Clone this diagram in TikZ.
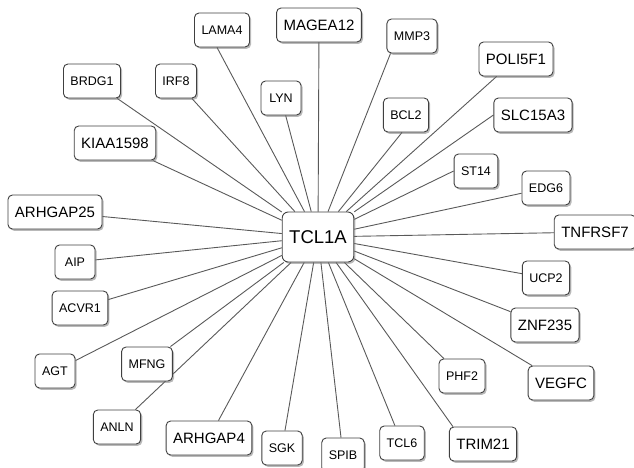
\documentclass[tikz,border=0pt]{standalone}
\usepackage{fontspec}
\setmainfont{Liberation Sans}
\usepackage{tikz}
\usetikzlibrary{shadows,backgrounds}
\tikzset{gene/.style={draw=black!75,fill=white,rounded corners=4.5pt,line width=0.9pt,
                      minimum height=34pt,minimum width=40pt,inner xsep=7pt,
                      font=\fontsize{12.5}{14}\selectfont,
                      drop shadow={shadow xshift=1.6pt,shadow yshift=-1.8pt,fill=black!55}},
         biggene/.style={gene,font=\fontsize{15}{17}\selectfont},
         hub/.style={gene,minimum height=50pt,inner xsep=7pt,rounded corners=6pt,
                     font=\fontsize{18.5}{20}\selectfont},
         link/.style={draw=black!65,line width=0.9pt}
}
\begin{document}
\begin{tikzpicture}[x=1pt,y=-1pt]
\useasboundingbox (0,0) rectangle (634,468);

% hub
\node[hub] (tcl) at (318,237) {TCL1A};

% top
\node[gene] (lama4) at (222,30) {LAMA4};
\node[biggene] (magea12) at (319,25) {MAGEA12};
\node[gene] (mmp3) at (412,36) {MMP3};
\node[biggene] (poli5f1) at (516,59) {POLI5F1};
\node[gene] (brdg1) at (92,81) {BRDG1};
\node[gene] (irf8) at (176,81) {IRF8};
\node[gene] (lyn) at (281,98) {LYN};
\node[gene] (bcl2) at (406,115) {BCL2};
\node[biggene] (slc15a3) at (533,115) {SLC15A3};
\node[biggene] (kiaa1598) at (115,143) {KIAA1598};
\node[gene] (st14) at (476,171) {ST14};
\node[gene] (edg6) at (546,188) {EDG6};

% middle
\node[biggene] (arhgap25) at (55,212) {ARHGAP25};
\node[biggene] (tnfrsf7) at (595,232) {TNFRSF7};
\node[gene] (aip) at (75,262) {AIP};
\node[gene] (ucp2) at (546,278) {UCP2};
\node[gene] (acvr1) at (80,308) {ACVR1};
\node[biggene] (znf235) at (545,325) {ZNF235};

% bottom
\node[gene] (agt) at (55,371) {AGT};
\node[gene] (mfng) at (147,364) {MFNG};
\node[gene] (phf2) at (462,376) {PHF2};
\node[biggene] (vegfc) at (561,383) {VEGFC};
\node[gene] (anln) at (117,427) {ANLN};
\node[biggene] (arhgap4) at (209,438) {ARHGAP4};
\node[gene] (sgk) at (282,448) {SGK};
\node[gene] (spib) at (343,455) {SPIB};
\node[gene] (tcl6) at (402,443) {TCL6};
\node[biggene] (trim21) at (483,444) {TRIM21};

% links
\begin{pgfonlayer}{background}
\foreach \g in {magea12,poli5f1,brdg1,irf8,lyn,kiaa1598,edg6,
                arhgap25,tnfrsf7,aip,ucp2,acvr1,znf235,agt,mfng,phf2,vegfc,anln,arhgap4,
                sgk,spib,tcl6}
  \draw[link] (tcl) -- (\g);
\draw[link] (tcl) -- ([xshift=-5pt]lama4.south);
\draw[link] (tcl) -- ([xshift=4pt]mmp3.south west);
\draw[link] (tcl) -- ([xshift=-4pt]bcl2.south);
\draw[link] (tcl) -- (slc15a3.west);
\draw[link] (tcl) -- (st14.west);
\draw[link] (tcl) -- ([xshift=4pt]trim21.north west);
\end{pgfonlayer}

\end{tikzpicture}
\end{document}
